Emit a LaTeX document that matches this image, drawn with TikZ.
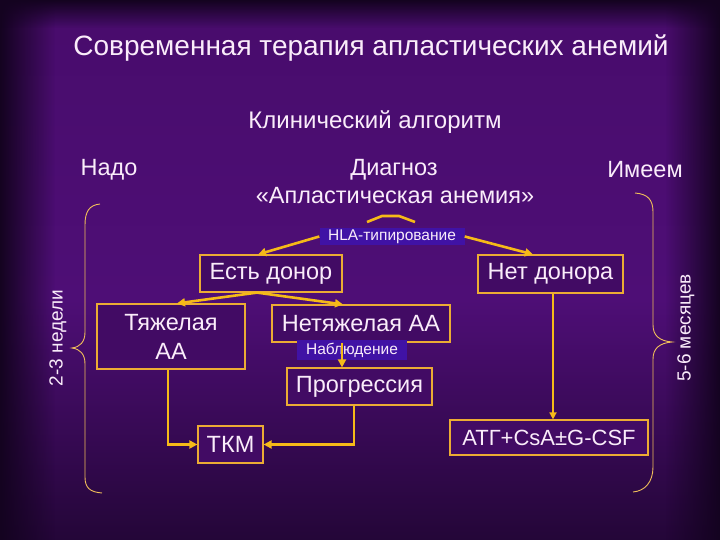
\documentclass[tikz,border=0pt]{standalone}
\usepackage{fontspec}
\setmainfont{Liberation Sans}
\usetikzlibrary{arrows.meta,fadings}
\definecolor{bgtop}{RGB}{72,12,108}
\definecolor{bgmid}{RGB}{78,14,118}
\definecolor{bgdark}{RGB}{36,6,56}
\definecolor{edge}{RGB}{20,3,32}
\definecolor{boxline}{RGB}{236,172,52}
\definecolor{arr}{RGB}{246,186,24}
\definecolor{txt}{RGB}{250,236,250}
\definecolor{hl}{RGB}{64,18,165}
\definecolor{boxfill}{RGB}{66,11,100}
\definecolor{brace}{RGB}{240,190,90}
\tikzset{
  lbl/.style={text=txt, inner sep=0pt},
  bx/.style={draw=boxline, line width=1.2pt, fill=boxfill, text=txt, inner sep=0pt, align=center, font=\fontsize{23.5}{29}\selectfont},
  hlbox/.style={fill=hl, text=txt, inner sep=0pt, font=\fontsize{15.5}{17}\selectfont},
  conn/.style={draw=arr, line width=2.6pt, -{Triangle[length=8pt,width=8pt]}},
  thinconn/.style={draw=arr, line width=1.6pt, -{Triangle[length=7pt,width=7pt]}},
  bracestyle/.style={draw=brace, line width=0.9pt}
}
\begin{document}
\begin{tikzpicture}[x=1pt,y=-1pt]
\useasboundingbox (0,0) rectangle (720,540);
% background
\fill[bgdark] (0,0) rectangle (720,540);
\shade[top color=bgtop, bottom color=bgmid] (0,0) rectangle (720,300);
\shade[top color=bgmid, bottom color=bgdark] (0,300) rectangle (720,540);
\fill[edge, path fading=east] (0,0) rectangle (55,540);
\fill[edge, path fading=west] (665,0) rectangle (720,540);
\fill[edge, path fading=south] (0,0) rectangle (720,28);
% titles
\node[lbl, font=\fontsize{28}{30}\selectfont] (title) at (371,48) {Современная терапия апластических анемий};
\node[lbl, font=\fontsize{24}{26}\selectfont] (sub) at (375,122) {Клинический алгоритм};
\node[lbl, font=\fontsize{23.5}{26}\selectfont] (nado) at (109,170) {Надо};
\node[lbl, font=\fontsize{23.5}{26}\selectfont] (imeem) at (645,170) {Имеем};
\node[lbl, font=\fontsize{23.5}{26}\selectfont] (diag) at (394,170) {Диагноз};
\node[lbl, font=\fontsize{23.5}{26}\selectfont] (aa) at (395,196) {«Апластическая анемия»};
% caret
\draw[arr, line width=2.6pt, line join=round] (367,222) -- (382,216) -- (399,216) -- (415,222);
% boxes
\node[bx, minimum width=142pt, minimum height=37pt] (yes) at (271,273.5) {Есть донор};
\node[bx, minimum width=145pt, minimum height=38pt] (no) at (550.5,274) {Нет донора};
\node[bx, minimum width=148pt, minimum height=65pt] (sev) at (171,336.5) {Тяжелая\\АА};
\node[bx, minimum width=178pt, minimum height=37pt] (nonsev) at (361,323.5) {Нетяжелая АА};
\node[bx, minimum width=145pt, minimum height=37pt] (prog) at (359.5,386.5) {Прогрессия};
\node[bx, minimum width=65pt, minimum height=37pt] (tkm) at (230.5,444.5) {ТКМ};
\node[bx, minimum width=198pt, minimum height=35pt, font=\fontsize{22}{24}\selectfont] (atg) at (549,437.5) {АТГ+CsA±G-CSF};
% highlighted labels
\node[hlbox, minimum width=145pt, minimum height=17pt] (hla) at (392,236.5) {HLA-типирование};
\node[hlbox, minimum width=110pt, minimum height=20pt] (nab) at (352,350) {Наблюдение};
% connectors
\draw[conn] (hla.west) -- ([xshift=-13pt]yes.north);
\draw[conn] (hla.east) -- ([xshift=-17.5pt]no.north);
\draw[conn] ([xshift=-14pt]yes.south) -- ([xshift=6pt]sev.north);
\draw[conn] ([xshift=-14pt]yes.south) -- ([xshift=-18pt]nonsev.north);
\draw[conn] ([xshift=-19pt]nonsev.south) -- ([xshift=-19pt]nonsev.south |- prog.north);
\draw[conn] ([xshift=-3pt]sev.south) |- (tkm.west);
\draw[conn] ([xshift=-5.5pt]prog.south) |- (tkm.east);
\draw[thinconn] ([xshift=2.5pt]no.south) -- ([xshift=2.5pt]no.south |- atg.north);
% braces
\draw[bracestyle] (100,204) .. controls (89,205) and (85,212) .. (85,225) -- (85,332) .. controls (85,342) and (80,347) .. (72,348) .. controls (80,349) and (85,354) .. (85,364) -- (85,477) .. controls (85,488) and (90,492) .. (102,493);
\draw[bracestyle] (635,193) .. controls (648,194) and (653,200) .. (653,212) -- (653,325) .. controls (653,336) and (660,341) .. (672,342) .. controls (660,343) and (653,348) .. (653,359) -- (653,467) .. controls (653,482) and (645,491) .. (633,492);
\node[lbl, rotate=90, font=\fontsize{19}{21}\selectfont] (w23) at (58,338) {2-3 недели};
\node[lbl, rotate=90, font=\fontsize{19}{21}\selectfont] (m56) at (686,328) {5-6 месяцев};
\end{tikzpicture}
\end{document}
